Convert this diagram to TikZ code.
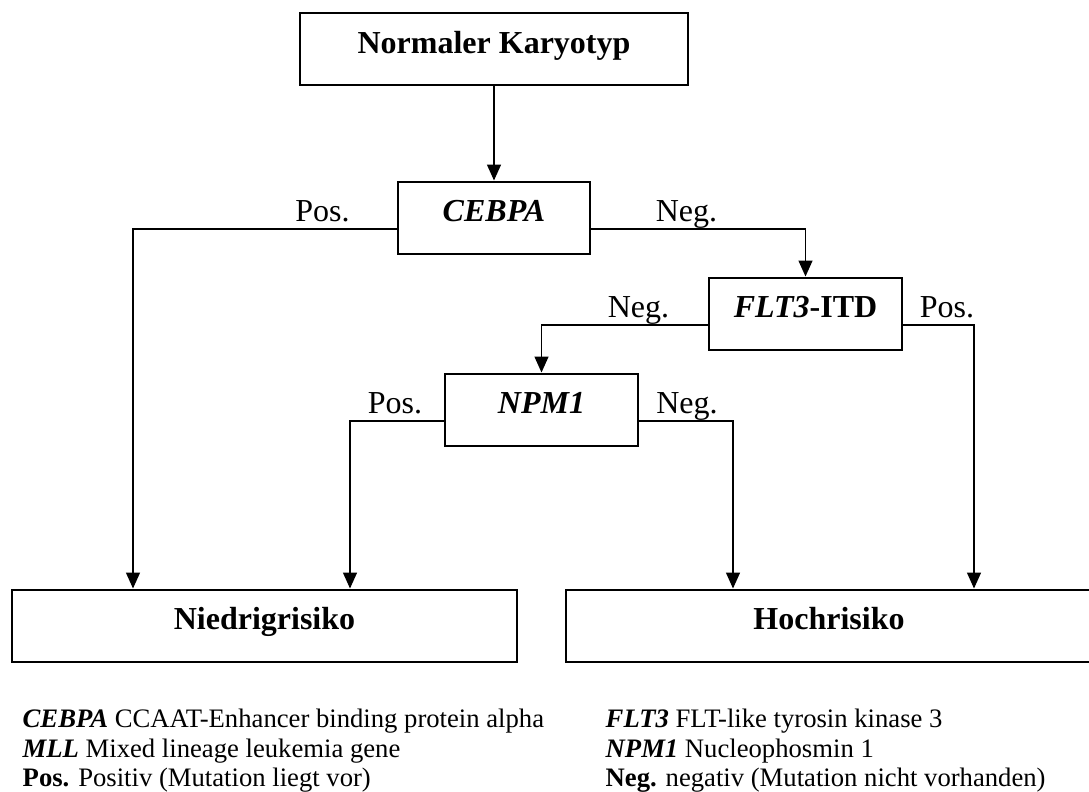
\documentclass[tikz,border=0pt]{standalone}
\usepackage{fontspec}
\setmainfont{Liberation Serif}
\usetikzlibrary{arrows.meta,positioning}
\tikzset{
%Define standard arrow tip
>={Triangle[length=12pt,width=10.5pt]},
%Define styles for boxes, lines and texts
box/.style={draw, line width=1.5pt, inner sep=0pt, minimum height=54pt,
  text height=0.8em, text depth=0.16em, font=\fontsize{24}{28}\selectfont\bfseries},
connection/.style={->, line width=1.1pt},
answer/.style={anchor=base, font=\fontsize{24}{28}\selectfont},
legend/.style={anchor=base west, font=\fontsize{20}{24}\selectfont},
}

\begin{document}
\begin{tikzpicture}[x=0.75pt,y=-0.75pt]
    \useasboundingbox (0,0) rectangle (1089,792);
    %Decision boxes
    \node[box, minimum width=291pt] (kary) at (494,49.5) {Normaler Karyotyp};
    \node[box, minimum width=144pt] (cebpa) at (494,217.5) {\textit{CEBPA}};
    \node[box, minimum width=144.75pt] (flt) at (805.5,313.5) {\textit{FLT3}-ITD};
    \node[box, minimum width=144.75pt] (npm) at (541.5,409.5) {\textit{NPM1}};
    %Result boxes
    \node[box, minimum width=378.75pt] (low) at (264.5,625.5) {Niedrigrisiko};
    \node[box, minimum width=394.5pt] (high) at (829,625.5) {Hochrisiko};

    %% These coordinates decide where the lines drop to the result boxes
    \coordinate (cpos) at (133,0);
    \coordinate (npos) at (350,0);
    \coordinate (nneg) at (733,0);
    \coordinate (fpos) at (974,0);

    %Connections
    \draw[connection] (kary.south) -- (kary.south |- cebpa.north);
    \draw[connection] ([yshift=-8.6pt]cebpa.west) -| (low.north -| cpos);
    \draw[connection] ([yshift=-8.6pt]cebpa.east) -| (flt.north);
    \draw[connection] ([yshift=-8.6pt]flt.west) -| (npm.north);
    \draw[connection] ([yshift=-8.6pt]flt.east) -| (high.north -| fpos);
    \draw[connection] ([yshift=-8.6pt]npm.west) -| (low.north -| npos);
    \draw[connection] ([yshift=-8.6pt]npm.east) -| (high.north -| nneg);

    %Answers on the lines
    \node[answer] (cebpapos) at (322.5,221) {Pos.};
    \node[answer] (cebpaneg) at (686.5,221) {Neg.};
    \node[answer] (fltneg) at (638.5,317) {Neg.};
    \node[answer] (fltpos) at (947,317) {Pos.};
    \node[answer] (npmpos) at (395,413) {Pos.};
    \node[answer] (npmneg) at (687,413) {Neg.};

    %Legend
    \node[legend] (leg1) at (18,727) {\textbf{\textit{CEBPA}} CCAAT-Enhancer binding protein alpha};
    \node[legend] (leg2) at (18,757) {\textbf{\textit{MLL}} Mixed lineage leukemia gene};
    \node[legend] (leg3) at (18,786) {\textbf{Pos.} Positiv (Mutation liegt vor)};
    \node[legend] (leg4) at (601,727) {\textbf{\textit{FLT3}} FLT-like tyrosin kinase 3};
    \node[legend] (leg5) at (601,757) {\textbf{\textit{NPM1}} Nucleophosmin 1};
    \node[legend] (leg6) at (601,786) {\textbf{Neg.} negativ (Mutation nicht vorhanden)};
\end{tikzpicture}
\end{document}
